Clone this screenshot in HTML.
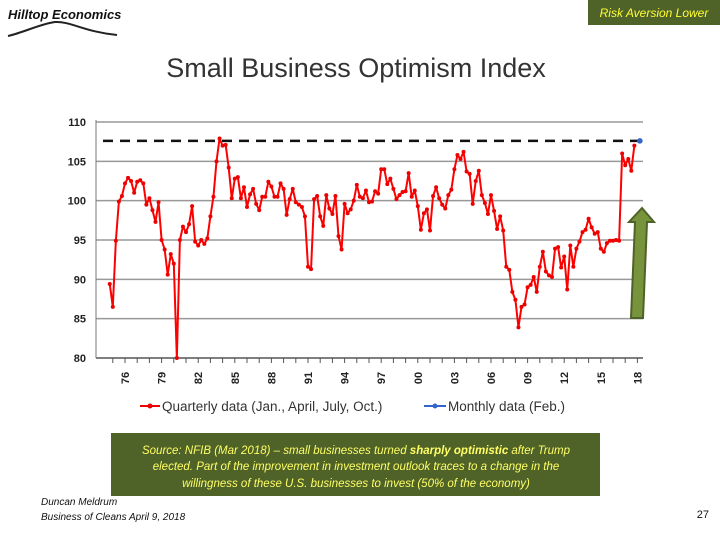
<!DOCTYPE html>
<html><head><meta charset="utf-8"><style>
html,body{margin:0;padding:0;background:#fff;}
body{width:720px;height:540px;position:relative;overflow:hidden;font-family:"Liberation Sans",sans-serif;}
svg{position:absolute;left:0;top:0;}
</style></head><body>
<svg id="chart" width="720" height="540" viewBox="0 0 720 540">
  <g>
    <text x="8" y="19" font-size="13" font-weight="bold" font-style="italic" fill="#111">Hilltop Economics</text>
    <path d="M8,36 C25,32 40,24 55,22 C70,21 85,32 117,35" stroke="#222" stroke-width="2" fill="none"/>
  </g>
  <rect x="588" y="0" width="132" height="25" fill="#4f6228"/>
  <text x="654" y="17" font-size="12" font-style="italic" fill="#ffff33" text-anchor="middle">Risk Aversion Lower</text>
  <text x="356" y="77" font-size="27" fill="#333" text-anchor="middle">Small Business Optimism Index</text>
  <g id="grid"></g>
  <g id="yticks"></g>
  <g id="xticks"></g>
  <g id="series"></g>
  <g>
    <path d="M631,318 L643,318 L647,222 L654,222 L642,208 L629,222 L635,222 Z" fill="#77933c" stroke="#4f6228" stroke-width="2"/>
  </g>
  <g>
    <line x1="140" y1="406" x2="160" y2="406" stroke="#e00" stroke-width="2"/>
    <circle cx="150" cy="406" r="2.5" fill="#e00"/>
    <text x="162" y="411" font-size="13.5" fill="#333">Quarterly data (Jan., April, July, Oct.)</text>
    <line x1="424" y1="406" x2="446" y2="406" stroke="#36c" stroke-width="2"/>
    <circle cx="435" cy="406" r="2.5" fill="#36c"/>
    <text x="448" y="411" font-size="13.5" fill="#333">Monthly data (Feb.)</text>
  </g>
  <rect x="111" y="433" width="489" height="63" fill="#4f6228"/>
  <g font-size="11.5" font-style="italic" fill="#ffff66" text-anchor="middle">
    <text x="356" y="454">Source: NFIB (Mar 2018) – small businesses turned <tspan font-weight="bold">sharply optimistic</tspan> after Trump</text>
    <text x="356" y="470">elected.  Part of the improvement in investment outlook traces to a change in the</text>
    <text x="356" y="487">willingness of these U.S. businesses to invest (50% of the economy)</text>
  </g>
  <text x="41" y="505" font-size="10" font-style="italic" fill="#111">Duncan Meldrum</text>
  <text x="41" y="520" font-size="10" font-style="italic" fill="#111">Business of Cleans April 9, 2018</text>
  <text x="709" y="518" font-size="11" fill="#111" text-anchor="end">27</text>
</svg>
<script>
const yTicks=[80,85,90,95,100,105,110];
const xTickLabels=["76","79","82","85","88","91","94","97","00","03","06","09","12","15","18"];
const xTickYears=[1976,1979,1982,1985,1988,1991,1994,1997,2000,2003,2006,2009,2012,2015,2018];
const startYear=1974.75;
const quarterlyValues=[89.4,
86.5,94.9,99.9,100.6, 102.2,102.9,102.5,101.0, 102.4,102.6,102.2,99.5, 100.3,98.8,97.3,99.8,
95.0,93.8,90.6,93.2, 92.0,80.0,95.0,96.7, 96.0,97.0,99.3,94.8, 94.3,95.0,94.5,95.2,
98.0,100.5,105.0,107.9, 107.0,107.1,104.2,100.3, 102.8,103.0,100.3,101.7, 99.2,100.8,101.5,99.6,
98.8,100.5,100.5,102.4, 101.8,100.5,100.5,102.2, 101.5,98.2,100.2,101.5, 99.8,99.5,99.2,98.0,
91.6,91.3,100.2,100.6, 98.0,96.8,100.7,99.0, 98.3,100.6,95.5,93.8, 99.6,98.4,98.9,100.0,
102.0,100.5,100.3,101.3, 99.8,99.9,101.2,100.9, 104.0,104.0,102.1,102.8, 101.5,100.2,100.7,101.1,
101.2,103.5,100.5,101.3, 99.3,96.3,98.4,98.9, 96.2,100.6,101.7,100.3, 99.5,99.0,100.7,101.4,
104.0,105.8,105.3,106.2, 103.7,103.4,99.6,102.5, 103.8,100.7,99.7,98.3, 100.7,98.7,96.4,98.0,
96.2,91.6,91.2,88.4, 87.4,83.9,86.5,86.8, 89.0,89.3,90.3,88.4, 91.6,93.5,91.0,90.5,
90.3,93.9,94.1,91.5, 92.9,88.7,94.3,91.6, 93.9,94.8,96.0,96.3, 97.7,96.6,95.8,96.0,
93.9,93.5,94.6,94.9, 94.9,95.0,94.9,106.0, 104.5,105.3,103.8,107.0];
const monthlyYears=[2018.2];
const monthlyValues=[107.6];
const benchmarkValue=[107.6];

const NS="http://www.w3.org/2000/svg";
const X0=96,X1=643,Y0=122,Y1=358;
function xs(t){return 125+(t-1976)*12.2;}
function ys(v){return Y1-(v-80)/30*(Y1-Y0);}
function mk(tag,attrs,parent){const e=document.createElementNS(NS,tag);for(const k in attrs)e.setAttribute(k,attrs[k]);parent.appendChild(e);return e;}
const grid=document.getElementById('grid'),yg=document.getElementById('yticks'),xg=document.getElementById('xticks'),sg=document.getElementById('series');
yTicks.forEach(v=>{
  const l=mk('line',{x1:X0,x2:X1,y1:ys(v),y2:ys(v),stroke:v===80?'#555':'#999','stroke-width':v===80?1.5:1.5},grid);
  
  
  const t=mk('text',{x:86,y:ys(v)+4,'font-size':11,'font-weight':'bold','text-anchor':'end',fill:'#222'},yg);
  t.textContent=v;
  
  
});
const ax=mk('line',{x1:X0,x2:X0,y1:Y0-2,y2:Y1,stroke:'#777','stroke-width':1},yg);


for(let yr=1975;yr<=2018;yr++){
  const tk=mk('line',{x1:xs(yr),x2:xs(yr),y1:Y1,y2:Y1+5,stroke:'#555','stroke-width':1},xg);
  
  
}
xTickLabels.forEach((s,i)=>{
  const x=xs(xTickYears[i])+4,y=378;
  const t=mk('text',{x:x,y:y,'font-size':11,'font-weight':'bold','text-anchor':'middle',fill:'#222',transform:`rotate(-90 ${x} ${y})`},xg);
  t.textContent=s;
  
  
});
const bl=mk('line',{x1:103,x2:640,y1:ys(benchmarkValue[0]),y2:ys(benchmarkValue[0]),stroke:'#111','stroke-width':2.5,'stroke-dasharray':'10,7'},sg);


const pts=quarterlyValues.map((v,i)=>[xs(startYear+i*0.25),ys(v)]);
const pl=mk('polyline',{points:pts.map(p=>p.join(',')).join(' '),fill:'none',stroke:'#f00','stroke-width':2,'stroke-linejoin':'round'},sg);


pts.forEach(p=>{
  const c=mk('circle',{cx:p[0],cy:p[1],r:2,fill:'#e00'},sg);
  
  
});
monthlyValues.forEach((v,i)=>{
  const c=mk('circle',{cx:xs(monthlyYears[i]),cy:ys(v),r:2.8,fill:'#36c'},sg);
  
  
});
</script>
</body></html>
